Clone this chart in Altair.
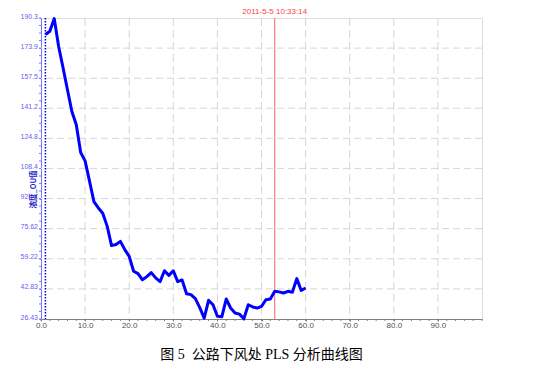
import altair as alt
import numpy as np
import pandas as pd

# ---- data ----
x_vals = list(range(1, 61))
y_vals = [181.3, 183.1, 190.0, 174.8, 163.2, 151.2, 139.4, 132.2, 117.1, 112.5,
          101.5, 90.3, 86.9, 84.0, 77.0, 66.4, 67.0, 68.7, 64.2, 60.5,
          52.4, 51.1, 47.8, 49.5, 51.7, 48.8, 46.8, 52.7, 50.2, 52.7,
          46.8, 47.7, 40.2, 39.7, 37.5, 32.6, 26.9, 36.6, 34.2, 27.9,
          27.6, 37.3, 32.4, 29.7, 29.1, 26.6, 34.2, 33.0, 32.4, 33.3,
          36.9, 37.3, 41.5, 41.2, 40.6, 41.5, 41.0, 48.4, 42.0, 43.3]

y_ticks = [26.43, 42.83, 59.22, 75.62, 92, 108.4, 124.8, 141.2, 157.5, 173.9, 190.3]
x_ticks = [0, 10, 20, 30, 40, 50, 60, 70, 80, 90]
x_grid = [10, 20, 30, 40, 50, 60, 70, 80, 90]
y_grid = [42.83, 59.22, 75.62, 92, 108.4, 124.8, 141.2, 157.5, 173.9]
x_minor = list(range(0, 101, 2))
y_minor = list(np.linspace(26.43, 190.3, 41))
marker_x = [53]
marker_label = ["2011-5-5 10:33:14"]
start_x = [1]
y_title = "浓度_OU值"
caption = "图 5\u00a0\u00a0公路下风处 PLS 分析曲线图"

W, H = 441, 301
xs = alt.Scale(domain=[0, 100], nice=False, zero=False)
ys = alt.Scale(domain=[26.43, 190.3], nice=False, zero=False)

x_axis = alt.Axis(values=x_ticks, format=".1f", title=None, grid=False,
                  domainColor="#808080", tickColor="#808080", tickSize=2,
                  labelColor="#505050", labelFontSize=8, labelFont="Liberation Sans",
                  labelPadding=0, labelFlush=False, labelOverlap=False)
y_axis = alt.Axis(values=y_ticks, format=".4~g", title=y_title, grid=False,
                  domainColor="#7878ff", tickColor="#7878ff", tickSize=2,
                  labelColor="#6464f0", labelFontSize=7, labelFont="Liberation Sans",
                  labelAlign="left", labelPadding=19, labelOffset=-2,
                  labelFlush=False, labelOverlap=False,
                  titleX=-8, titleY=171, titleAngle=270, titleAlign="center",
                  titleBaseline="middle", titleColor="#2020d0", titleFontSize=7.5,
                  titleFontWeight="bold", titleFont="Noto Sans CJK SC")

df = pd.DataFrame({"x": x_vals, "y": y_vals})

gx = alt.Chart(pd.DataFrame({"x": x_grid})).mark_rule(
    color="#d6d6d6", strokeDash=[8, 4], strokeWidth=1
).encode(x=alt.X("x:Q", scale=xs, axis=x_axis))

gy = alt.Chart(pd.DataFrame({"y": y_grid})).mark_rule(
    color="#d6d6d6", strokeDash=[7, 4], strokeWidth=1
).encode(y=alt.Y("y:Q", scale=ys, axis=y_axis))

mx = alt.Chart(pd.DataFrame({"x": x_minor})).mark_rule(
    color="#808080", strokeWidth=1
).encode(x=alt.X("x:Q", scale=xs, axis=None), y=alt.value(H), y2=alt.value(H + 2))

my = alt.Chart(pd.DataFrame({"y": y_minor})).mark_rule(
    color="#7878ff", strokeWidth=1
).encode(y=alt.Y("y:Q", scale=ys, axis=None), x=alt.value(-2), x2=alt.value(0))

start = alt.Chart(pd.DataFrame({"x": start_x})).mark_rule(
    color="#0000c0", strokeDash=[1.5, 1.5], strokeWidth=1.5
).encode(x=alt.X("x:Q", scale=xs, axis=None))

red = alt.Chart(pd.DataFrame({"x": marker_x})).mark_rule(
    color="#ff6060", strokeWidth=1
).encode(x=alt.X("x:Q", scale=xs, axis=None))

red_txt = alt.Chart(pd.DataFrame({"x": marker_x, "t": marker_label})).mark_text(
    color="#ff4040", fontSize=8, font="Liberation Sans", baseline="top", align="center"
).encode(x=alt.X("x:Q", scale=xs, axis=None), y=alt.value(-10), text="t:N")

line = alt.Chart(df).mark_line(color="#0000ff", strokeWidth=3, strokeJoin="round").encode(
    x=alt.X("x:Q", scale=xs, axis=None),
    y=alt.Y("y:Q", scale=ys, axis=None),
)

chart = alt.layer(gx, gy, mx, my, start, red, line, red_txt).resolve_axis(
    x="independent", y="independent"
).properties(
    width=W, height=H,
    autosize=alt.AutoSizeParams(type="none"),
    padding={"left": 33, "top": 10, "right": 20, "bottom": 44},
    title=alt.TitleParams(text=caption, orient="bottom", anchor="middle",
                          font="Liberation Serif, Noto Sans CJK SC", fontSize=14,
                          fontWeight="normal", color="#000000", offset=19),
).configure_view(stroke=None).configure(background="white")

chart.save("out.html", embed_options={"renderer": "svg", "actions": False})
